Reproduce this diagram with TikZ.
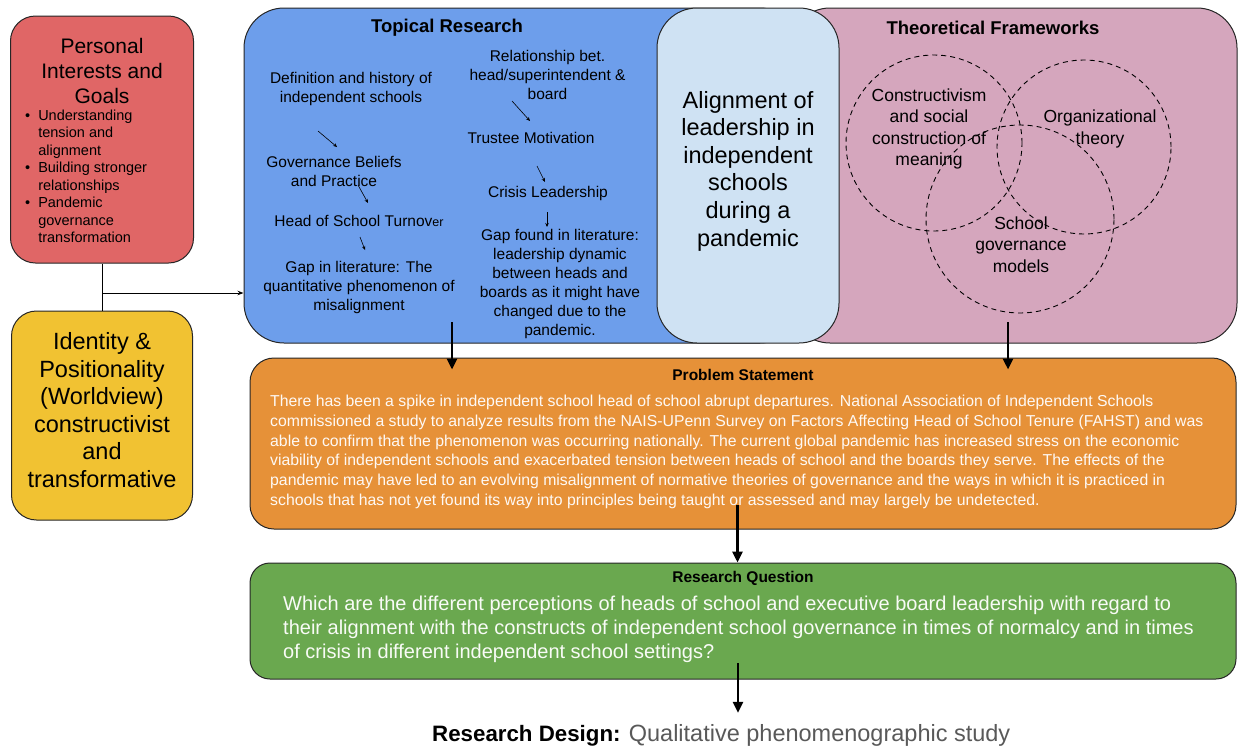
\documentclass[tikz,border=0pt]{standalone}
\usepackage{fontspec}
\setmainfont{Liberation Sans}
\usetikzlibrary{arrows.meta}
\definecolor{goalred}{HTML}{E06666}
\definecolor{idyellow}{HTML}{F1C232}
\definecolor{topicblue}{HTML}{6D9EEB}
\definecolor{theorypink}{HTML}{D5A6BD}
\definecolor{focusblue}{HTML}{CFE2F3}
\definecolor{proborange}{HTML}{E69138}
\definecolor{rqgreen}{HTML}{6AA84F}
\definecolor{designgray}{HTML}{595959}
\begin{document}
\begin{tikzpicture}[
		x=1pt, y=-1pt,
		box/.style={draw=black!85,line width=1pt,inner sep=0pt},
		txt/.style={inner sep=0pt,align=center},
		small/.style={txt,font=\fontsize{15.5}{19}\selectfont},
		head/.style={txt,font=\bfseries\fontsize{18.5}{22}\selectfont},
		bar/.style={txt,font=\bfseries\fontsize{15.5}{18}\selectfont},
		tip/.style={-{Stealth[length=4pt,width=3.5pt]},line width=0.6pt},
		bigarr/.style={-{Triangle[length=11pt,width=10pt]},line width=2.6pt},
		venn/.style={draw,circle,dash pattern=on 5pt off 4pt,line width=0.9pt,inner sep=0pt}
		]
		\useasboundingbox (0,0) rectangle (1238,750);

		% boxes
		\node[box,fill=goalred,rounded corners=25pt,minimum width=183pt,minimum height=247pt] (goals) at (102,139.5) {};
		\node[box,fill=idyellow,rounded corners=25pt,minimum width=181pt,minimum height=209pt] (ident) at (102,415.5) {};
		\node[box,fill=topicblue,rounded corners=40pt,minimum width=556pt,minimum height=335pt] (topic) at (522,175.5) {};
		\node[box,fill=theorypink,rounded corners=40pt,minimum width=447pt,minimum height=335pt] (theory) at (1013.5,175.5) {};
		\node[box,fill=focusblue,rounded corners=40pt,minimum width=182pt,minimum height=335pt] (focus) at (748,175.5) {};
		\node[box,fill=proborange,rounded corners=24pt,minimum width=986pt,minimum height=171pt] (prob) at (743,443.5) {};
		\node[box,fill=rqgreen,rounded corners=20pt,minimum width=986pt,minimum height=116pt] (rq) at (743,621) {};

		% left column
		\node[txt,font=\fontsize{21}{25}\selectfont] (goaltitle) at (102,71) {Personal\\Interests and\\Goals};
		\node[inner sep=0pt,anchor=north west,font=\fontsize{14.5}{17.5}\selectfont] (goallist) at (25,108) {%
			\begin{tabular}{@{}l@{\hspace{8pt}}l@{}}
				\textbullet & Understanding\\
				& tension and\\
				& alignment\\
				\textbullet & Building stronger\\
				& relationships\\
				\textbullet & Pandemic\\
				& governance\\
				& transformation
			\end{tabular}};
		\node[txt,font=\fontsize{23.5}{27.6}\selectfont] (identtext) at (102,410) {Identity \&\\Positionality\\(Worldview)\\constructivist\\and\\transformative};
		\coordinate (join) at (102,293);
		\draw[line width=0.9pt] (goals.south) -- (ident.north);
		\draw[line width=0.9pt,-{Stealth[length=6pt,width=4.5pt]}] (join) -- (join -| topic.west);

		% topical research
		\node[head] (topictitle) at (447,28) {Topical Research};
		\node[small] (defn) at (351,88.5) {Definition and history of\\independent schools};
		\node[small] (belief) at (334,171.5) {Governance Beliefs\\and Practice};
		\node[small] (turnover) at (359,221) {Head of School Turnov{\fontsize{12.5}{15}\selectfont er}};
		\node[small] (gapq) at (359,287) {Gap in literature: The\\quantitative phenomenon of\\misalignment};
		\node[small] (relation) at (547.5,74.5) {Relationship bet.\\head/superintendent \&\\board};
		\node[small] (trustee) at (531,138) {Trustee Motivation};
		\node[small] (crisis) at (548,193) {Crisis Leadership};
		\node[small] (gapl) at (560,283.5) {Gap found in literature:\\leadership dynamic\\between heads and\\boards as it might have\\changed due to the\\pandemic.};
		\coordinate (a1) at (318,131); \coordinate (b1) at (337,147);
		\coordinate (a2) at (358,185); \coordinate (b2) at (368,203);
		\coordinate (a3) at (360,237); \coordinate (b3) at (365,250);
		\coordinate (a4) at (512,101); \coordinate (b4) at (530,121);
		\coordinate (a5) at (537,166); \coordinate (b5) at (545,182);
		\coordinate (a6) at (547,212); \coordinate (b6) at (547,227);
		\foreach \i in {1,...,6}
			\draw[tip] (a\i) -- (b\i);

		% focus
		\node[txt,font=\fontsize{23.5}{27.6}\selectfont] (focustext) at (748,171) {Alignment of\\leadership in\\independent\\schools\\during a\\pandemic};

		% theoretical frameworks
		\node[head] (theorytitle) at (993,28) {Theoretical Frameworks};
		\node[venn,minimum size=176pt] (constr) at (934,143) {};
		\node[venn,minimum size=174pt] (org) at (1084,147) {};
		\node[venn,minimum size=188pt] (gov) at (1020,219) {};
		\node[txt,font=\fontsize{17.5}{21.5}\selectfont] (constrtext) at (929,129) {Constructivism\\and social\\construction of\\meaning};
		\node[txt,font=\fontsize{17.5}{21.5}\selectfont] (orgtext) at (1100,129) {Organizational\\theory};
		\node[txt,font=\fontsize{17.5}{21.5}\selectfont] (govtext) at (1021,244.5) {School\\governance\\models};

		% problem statement and question
		\node[bar] (probtitle) at (743,375) {Problem Statement};
		\node[inner sep=0pt,anchor=west,align=left,text=white!95!proborange,font=\fontsize{15.8}{19.8}\selectfont] (probtext) at (270,452) {There has been a spike in independent school head of school abrupt departures. National Association of Independent Schools\\commissioned a study to analyze results from the NAIS-UPenn Survey on Factors Affecting Head of School Tenure (FAHST) and was\\able to confirm that the phenomenon was occurring nationally. The current global pandemic has increased stress on the economic\\viability of independent schools and exacerbated tension between heads of school and the boards they serve. The effects of the\\pandemic may have led to an evolving misalignment of normative theories of governance and the ways in which it is practiced in\\schools that has not yet found its way into principles being taught or assessed and may largely be undetected.};
		\node[bar] (rqtitle) at (743,578) {Research Question};
		\node[inner sep=0pt,anchor=west,align=left,text=white!95!rqgreen,font=\fontsize{20}{24}\selectfont] (rqtext) at (283,629) {Which are the different perceptions of heads of school and executive board leadership with regard to\\their alignment with the constructs of independent school governance in times of normalcy and in times\\of crisis in different independent school settings?};
		\node[inner sep=0pt,anchor=west,font=\fontsize{22.3}{26}\selectfont] (design) at (432,735) {\textbf{Research Design:} \textcolor{designgray}{\fontsize{23.5}{26}\selectfont Qualitative phenomenographic study}};

		% main flow
		\coordinate (topicout) at (452,322);
		\coordinate (theoryout) at (1008,322);
		\coordinate (probout) at (737.5,505);
		\coordinate (rqout) at (738,663);
		\draw[bigarr] (topicout) -- ([yshift=-12pt]topicout |- prob.north);
		\draw[bigarr] (theoryout) -- ([yshift=-12pt]theoryout |- prob.north);
		\draw[bigarr] (probout) -- (probout |- rq.north);
		\draw[bigarr] (rqout) -- ([yshift=11pt]rqout |- design.north);
	\end{tikzpicture}
\end{document}
